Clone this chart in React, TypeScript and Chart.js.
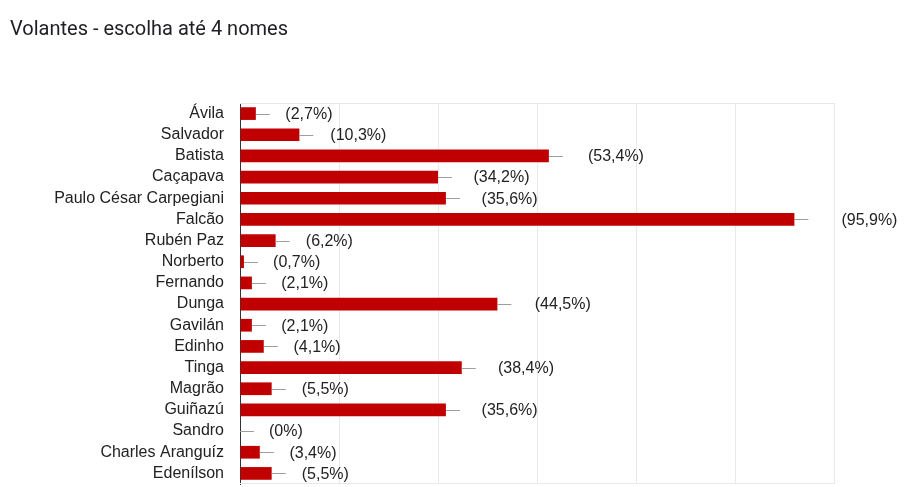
import React, { useEffect, useRef } from "react";
import { Chart, registerables } from "chart.js";

Chart.register(...registerables);

const title = "Volantes - escolha até 4 nomes";
const categories = [
  "Ávila", "Salvador", "Batista", "Caçapava", "Paulo César Carpegiani", "Falcão",
  "Rubén Paz", "Norberto", "Fernando", "Dunga", "Gavilán", "Edinho", "Tinga",
  "Magrão", "Guiñazú", "Sandro", "Charles Aranguíz", "Edenílson",
];
const counts = [4, 15, 78, 50, 52, 140, 9, 1, 3, 65, 3, 6, 56, 8, 52, 0, 5, 8];
const percentLabels = [
  "2,7%", "10,3%", "53,4%", "34,2%", "35,6%", "95,9%", "6,2%", "0,7%", "2,1%",
  "44,5%", "2,1%", "4,1%", "38,4%", "5,5%", "35,6%", "0%", "3,4%", "5,5%",
];
const xMax = 150;
const xStep = 25;

const LABEL_FAMILY = "'Liberation Sans', Arial, sans-serif";
const LABEL_FONT = "16px " + LABEL_FAMILY;

const annotPlugin = {
  id: "annot",
  beforeDatasetsDraw(chart: any) {
    const { ctx, chartArea } = chart;
    ctx.save();
    ctx.strokeStyle = "#e8e8e8";
    ctx.lineWidth = 1;
    ctx.beginPath();
    ctx.moveTo(chartArea.left, chartArea.top + 0.5);
    ctx.lineTo(chartArea.right, chartArea.top + 0.5);
    ctx.moveTo(chartArea.left, chartArea.bottom - 0.5);
    ctx.lineTo(chartArea.right, chartArea.bottom - 0.5);
    ctx.stroke();
    ctx.restore();
  },
  afterDatasetsDraw(chart: any) {
    const { ctx } = chart;
    const meta = chart.getDatasetMeta(0);
    const x0 = chart.scales.x.getPixelForValue(0);
    ctx.save();
    ctx.font = LABEL_FONT;
    ctx.textAlign = "left";
    ctx.textBaseline = "middle";
    meta.data.forEach((el: any, i: number) => {
      const xe = el.x;
      const y = Math.round(el.y) + 0.5;
      ctx.strokeStyle = "#9e9e9e";
      ctx.lineWidth = 1;
      ctx.beginPath();
      ctx.moveTo(xe, y);
      ctx.lineTo(xe + 14, y);
      ctx.stroke();
      ctx.fillStyle = "#222222";
      const tx = xe + 29 + (xe - x0) * 0.0325;
      ctx.fillText("(" + percentLabels[i] + ")", tx, el.y + 1);
    });
    ctx.restore();
  },
};

export default function App() {
  const ref = useRef<HTMLCanvasElement>(null);
  useEffect(() => {
    if (!ref.current) return;
    const chart = new Chart(ref.current, {
      type: "bar",
      data: {
        labels: categories,
        datasets: [
          {
            data: counts,
            backgroundColor: "#c00000",
            borderWidth: 0,
            barPercentage: 0.6,
            categoryPercentage: 1,
          },
        ],
      },
      options: {
        indexAxis: "y",
        animation: false,
        responsive: false,
        layout: { autoPadding: false, padding: { top: 103, right: 74, bottom: 3, left: 0 } },
        plugins: {
          legend: { display: false },
          tooltip: { enabled: false },
          title: { display: false },
        },
        scales: {
          x: {
            min: 0,
            max: xMax,
            ticks: { display: false, stepSize: xStep },
            grid: { color: "#e8e8e8", drawTicks: false },
            border: { display: false },
            afterFit: (s: any) => { s.height = 0; },
          },
          y: {
            ticks: {
              color: "#222222",
              font: { family: LABEL_FAMILY, size: 16, lineHeight: 0.3 },
              padding: 0,
              autoSkip: false,
            },
            grid: { display: false, drawTicks: true, tickLength: 16 },
            border: { display: true, color: "#333333", width: 1 },
            afterFit: (s: any) => { s.width = 240; },
          },
        },
      } as any,
      plugins: [annotPlugin],
    });
    return () => chart.destroy();
  }, []);

  return (
    <div style={{ position: "fixed", left: 0, top: 0, width: 908, height: 487, background: "#fff", overflow: "hidden" }}>
      <div
        style={{
          position: "absolute",
          left: 10,
          top: 16,
          fontFamily: "Roboto, 'Open Sans', sans-serif",
          fontSize: 20,
          color: "#202124",
          whiteSpace: "nowrap",
        }}
      >
        {title}
      </div>
      <canvas ref={ref} width={908} height={487} style={{ display: "block" }} />
    </div>
  );
}
